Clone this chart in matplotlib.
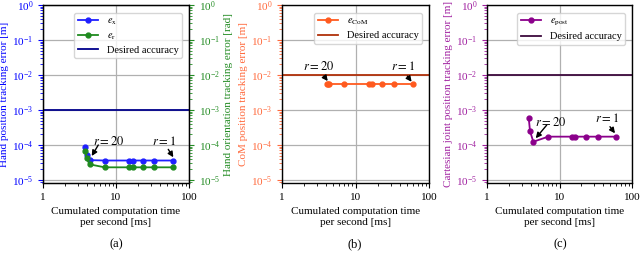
import matplotlib
matplotlib.use("Agg")
import matplotlib.pyplot as plt
from matplotlib.lines import Line2D

plt.rcParams['font.family'] = ['Liberation Serif', 'DejaVu Serif']
plt.rcParams['mathtext.fontset'] = 'stix'
plt.rcParams['font.size'] = 8

# Data
t = [3.8, 3.95, 4.35, 7.0, 15.2, 17.0, 23.2, 33.5, 61.0]
e_x = [8.6e-5, 5.3e-5, 3.7e-5, 3.6e-5, 3.6e-5, 3.6e-5, 3.6e-5, 3.6e-5, 3.6e-5]
e_r = [6.8e-5, 4.2e-5, 2.8e-5, 2.3e-5, 2.3e-5, 2.3e-5, 2.3e-5, 2.3e-5, 2.3e-5]
t_com = [4.06, 4.2, 4.36, 7.0, 15.4, 16.9, 23.2, 33.4, 61.0]
e_com = [5.5e-3, 5.5e-3, 5.5e-3, 5.5e-3, 5.5e-3, 5.5e-3, 5.5e-3, 5.5e-3, 5.5e-3]
t_post = [3.76, 3.92, 4.35, 7.0, 15.0, 16.5, 23.0, 33.5, 61.0]
e_post = [6.0e-4, 2.5e-4, 1.24e-4, 1.73e-4, 1.73e-4, 1.73e-4, 1.73e-4, 1.73e-4, 1.73e-4]
acc_hand = 1e-3
acc_com = 1e-2
acc_post = 1e-2

xlabel = "Cumulated computation time\nper second [ms]"

fig = plt.figure(figsize=(6.4, 2.59), dpi=100)
W, H = 640, 259
def ax_at(l, r, t_, b):
    return fig.add_axes([l / W, 1 - b / H, (r - l) / W, (b - t_) / H])

def style(ax, color):
    ax.set_xscale('log')
    ax.set_yscale('log')
    ax.set_xlim(1, 100)
    ax.set_ylim(8.2e-6, 1)
    ax.set_xticks([1, 10, 100])
    ax.set_xticklabels(['1', '10', '100'])
    ax.set_yticks([1e-5, 1e-4, 1e-3, 1e-2, 1e-1, 1])
    ax.grid(True, which='major', color='#b0b0b0', lw=0.9)
    ax.set_axisbelow(True)
    ax.tick_params(axis='y', colors=color, which='both')
    ax.tick_params(axis='both', labelsize=8)
    for s in ax.spines.values():
        s.set_linewidth(1.0)
    ax.set_xlabel(xlabel, fontsize=8, labelpad=4)

arrow = dict(arrowstyle='-|>', color='k', lw=1.0, mutation_scale=8, shrinkA=0, shrinkB=0)
leg_kw = dict(loc='upper right', fontsize=7.5, bbox_to_anchor=(0.99, 0.985),
              labelspacing=0.35, borderpad=0.35, handlelength=2.0)

def label_arrow(ax, txt, txy, tail, head):
    ax.text(txy[0], txy[1], txt, ha='center', va='center', fontsize=9)
    ax.annotate('', xy=head, xytext=tail, arrowprops=arrow)

# (a)
axa = ax_at(43, 189, 5, 183)
style(axa, 'blue')
la, = axa.plot(t, e_x, '-o', color='#1f1fff', ms=3.5, lw=1.3, label=r'$e_\mathrm{x}$')
axa.axhline(acc_hand, color='#00008b', lw=1.3)
axa.set_ylabel('Hand position tracking error [m]', color='blue', fontsize=8, labelpad=2)
axa2 = axa.twinx()
axa2.set_yscale('log')
axa2.set_ylim(8.2e-6, 1)
axa2.set_yticks([1e-5, 1e-4, 1e-3, 1e-2, 1e-1, 1])
axa2.tick_params(axis='y', colors='#228b22', which='both', labelsize=8)
lb, = axa2.plot(t, e_r, '-o', color='#1f8a1f', ms=3.5, lw=1.3, label=r'$e_\mathrm{r}$')
axa2.set_ylabel('Hand orientation tracking error [rad]', color='#228b22', fontsize=8, labelpad=3)
lc = Line2D([], [], color='#00008b', lw=1.3, label='Desired accuracy')
axa2.legend(handles=[la, lb, lc], **leg_kw)
label_arrow(axa2, r'$r = 20$', (7.8, 1.24e-4), (5.72, 1.0e-4), (4.65, 4.85e-5))
label_arrow(axa2, r'$r = 1$', (45.5, 1.24e-4), (52, 7.5e-5), (61, 4.45e-5))
fig.text(116 / W, 1 - 244 / H, '(a)', ha='center', va='center', fontsize=9)

# (b)
axb = ax_at(282, 429, 5, 183)
style(axb, '#ff6a3d')
axb.plot(t_com, e_com, '-o', color='#ff5a1f', ms=3.5, lw=1.3, label=r'$e_\mathrm{CoM}$')
axb.axhline(acc_com, color='#b0300a', lw=1.3, label='Desired accuracy')
axb.set_ylabel('CoM position tracking error [m]', color='#ff6a3d', fontsize=8, labelpad=2)
axb.legend(**leg_kw)
label_arrow(axb, r'$r = 20$', (3.1, 1.8e-2), (3.73, 9.3e-3), (4.19, 6.7e-3))
label_arrow(axb, r'$r = 1$', (44, 1.8e-2), (50.7, 9.3e-3), (58, 6.4e-3))
fig.text(355 / W, 1 - 244 / H, '(b)', ha='center', va='center', fontsize=9)

# (c)
axc = ax_at(487, 632, 5, 183)
style(axc, '#a020a0')
axc.plot(t_post, e_post, '-o', color='#8b008b', ms=3.5, lw=1.3, label=r'$e_\mathrm{post}$')
axc.axhline(acc_post, color='#3d0a3d', lw=1.3, label='Desired accuracy')
axc.set_ylabel('Cartesian joint position tracking error [m]', color='#a020a0', fontsize=8, labelpad=2)
axc.legend(**leg_kw)
label_arrow(axc, r'$r = 20$', (7.6, 4.4e-4), (6.66, 3.7e-4), (4.7, 1.56e-4))
label_arrow(axc, r'$r = 1$', (45, 5.8e-4), (49.7, 3.33e-4), (58.3, 2.16e-4))
fig.text(560 / W, 1 - 244 / H, '(c)', ha='center', va='center', fontsize=9)

fig.savefig('out.png', dpi=100)
